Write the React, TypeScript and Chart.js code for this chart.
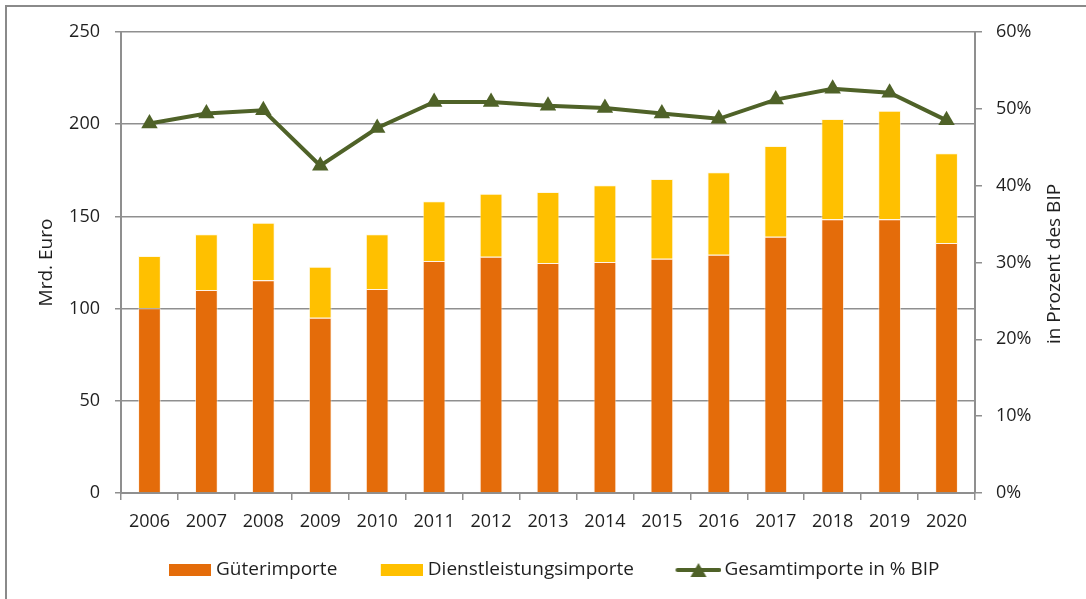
import React, { useEffect, useRef } from "react";
import { Chart, registerables } from "chart.js";

Chart.register(...registerables);

const years = ["2006", "2007", "2008", "2009", "2010", "2011", "2012", "2013", "2014", "2015", "2016", "2017", "2018", "2019", "2020"];
const gueterImporte = [100.2, 110.1, 115.4, 95.1, 110.6, 125.8, 128.1, 124.7, 125.3, 127.1, 129.2, 139.0, 148.4, 148.4, 135.6];
const dienstImporte = [28.3, 30.2, 31.2, 27.6, 29.7, 32.4, 34.2, 38.5, 41.6, 43.2, 44.7, 49.2, 54.4, 58.9, 48.6];
const gesamtProzentBIP = [48.1, 49.4, 49.8, 42.6, 47.5, 50.9, 50.9, 50.4, 50.1, 49.4, 48.7, 51.2, 52.6, 52.1, 48.5];

const seriesLabels = ["Güterimporte", "Dienstleistungsimporte", "Gesamtimporte in % BIP"];
const leftTitle = "Mrd. Euro";
const rightTitle = "in Prozent des BIP";

const ORANGE = "#E46C0A";
const YELLOW = "#FFC000";
const GREEN = "#4F6228";
const GRID = "#8f8f8f";
const TEXT = "#1f1f1f";
const FONT = "'Open Sans', sans-serif";

function boxImage(color: string) {
  const c = document.createElement("canvas");
  c.width = 62;
  c.height = 12;
  const ctx = c.getContext("2d")!;
  ctx.fillStyle = color;
  ctx.fillRect(20, 0, 42, 12);
  return c;
}

function lineImage(color: string) {
  const c = document.createElement("canvas");
  c.width = 66;
  c.height = 18;
  const ctx = c.getContext("2d")!;
  ctx.strokeStyle = color;
  ctx.lineWidth = 4;
  ctx.lineCap = "round";
  ctx.beginPath();
  ctx.moveTo(22, 9);
  ctx.lineTo(64, 9);
  ctx.stroke();
  ctx.fillStyle = color;
  ctx.beginPath();
  ctx.moveTo(43, 2);
  ctx.lineTo(51, 16);
  ctx.lineTo(35, 16);
  ctx.closePath();
  ctx.fill();
  return c;
}

const rightTitlePlugin = {
  id: "rightTitle",
  afterDraw(chart: any) {
    const ctx = chart.ctx;
    ctx.save();
    ctx.translate(1055, 264);
    ctx.rotate(-Math.PI / 2);
    ctx.font = `19px ${FONT}`;
    ctx.fillStyle = TEXT;
    ctx.textAlign = "center";
    ctx.textBaseline = "middle";
    ctx.fillText(rightTitle, 0, 0);
    ctx.restore();
  },
};

export default function App() {
  const ref = useRef<HTMLCanvasElement | null>(null);

  useEffect(() => {
    if (!ref.current) return;
    const images = [boxImage(ORANGE), boxImage(YELLOW), lineImage(GREEN)];
    const chart = new Chart(ref.current, {
      type: "bar",
      data: {
        labels: years,
        datasets: [
          {
            type: "bar",
            label: seriesLabels[0],
            data: gueterImporte,
            backgroundColor: ORANGE,
            borderColor: "rgba(255,235,215,0.6)",
            borderWidth: 1,
            yAxisID: "y",
            order: 2,
            categoryPercentage: 1,
            barPercentage: 0.4,
          },
          {
            type: "bar",
            label: seriesLabels[1],
            data: dienstImporte,
            backgroundColor: YELLOW,
            borderColor: "rgba(255,245,210,0.6)",
            borderWidth: 1,
            yAxisID: "y",
            order: 2,
            categoryPercentage: 1,
            barPercentage: 0.4,
          },
          {
            type: "line",
            label: seriesLabels[2],
            data: gesamtProzentBIP,
            borderColor: GREEN,
            backgroundColor: GREEN,
            borderWidth: 4,
            pointStyle: "triangle",
            pointRadius: 9.5,
            pointBackgroundColor: GREEN,
            pointBorderColor: GREEN,
            pointBorderWidth: 0,
            tension: 0,
            yAxisID: "y1",
            order: 0,
          },
        ],
      } as any,
      options: {
        animation: false,
        responsive: false,
        devicePixelRatio: 1,
        layout: { padding: { left: 7, right: 0, top: 32, bottom: 9.5 } },
        plugins: {
          tooltip: { enabled: false },
          title: { display: false },
          legend: {
            position: "bottom",
            align: "center",
            labels: {
              usePointStyle: true,
              pointStyleWidth: 53,
              boxHeight: 13,
              padding: 28,
              color: TEXT,
              font: { family: FONT, size: 19 },
              generateLabels: (c: any) =>
                c.data.datasets.map((ds: any, i: number) => ({
                  text: ds.label,
                  pointStyle: images[i],
                  fillStyle: ds.backgroundColor,
                  strokeStyle: ds.backgroundColor,
                  lineWidth: 0,
                  hidden: false,
                  datasetIndex: i,
                  fontColor: TEXT,
                })),
            },
          },
        },
        scales: {
          x: {
            stacked: true,
            offset: true,
            grid: {
              display: true,
              offset: true,
              drawOnChartArea: false,
              drawTicks: true,
              tickLength: 7,
              color: GRID,
              lineWidth: 1.5,
            },
            border: { display: true, color: GRID, width: 2 },
            ticks: {
              color: TEXT,
              font: { family: FONT, size: 18 },
              padding: 11,
              autoSkip: false,
              maxRotation: 0,
            },
            afterFit: (s: any) => {
              s.height = 39.5;
            },
          },
          y: {
            type: "linear",
            position: "left",
            stacked: true,
            min: 0,
            max: 250,
            ticks: {
              stepSize: 50,
              color: TEXT,
              font: { family: FONT, size: 18 },
              padding: 15,
            },
            grid: {
              color: GRID,
              lineWidth: 1.5,
              drawTicks: true,
              tickLength: 6,
            },
            border: { display: true, color: GRID, width: 2 },
            title: {
              display: true,
              text: leftTitle,
              color: TEXT,
              font: { family: FONT, size: 19 },
              padding: { top: 28.6, bottom: 0 },
            },
            afterFit: (s: any) => {
              s.width = 114;
            },
          },
          y1: {
            type: "linear",
            position: "right",
            min: 0,
            max: 60,
            ticks: {
              stepSize: 10,
              color: TEXT,
              font: { family: FONT, size: 18 },
              padding: 14,
              callback: (v: any) => `${v}%`,
            },
            grid: {
              drawOnChartArea: false,
              drawTicks: true,
              tickLength: 7,
              color: GRID,
              lineWidth: 1.5,
            },
            border: { display: true, color: GRID, width: 2 },
            afterFit: (s: any) => {
              s.width = 111;
            },
          },
        },
      } as any,
      plugins: [rightTitlePlugin],
    });
    return () => chart.destroy();
  }, []);

  return (
    <div>
      <div
        style={{
          position: "absolute",
          left: 5,
          top: 5,
          width: 1081,
          height: 594,
          boxSizing: "border-box",
          borderTop: "2px solid #8a8a8a",
          borderLeft: "2px solid #8a8a8a",
        }}
      />
      <canvas
        ref={ref}
        width={1086}
        height={599}
        style={{ position: "absolute", left: 0, top: 0, width: 1086, height: 599 }}
      />
    </div>
  );
}
